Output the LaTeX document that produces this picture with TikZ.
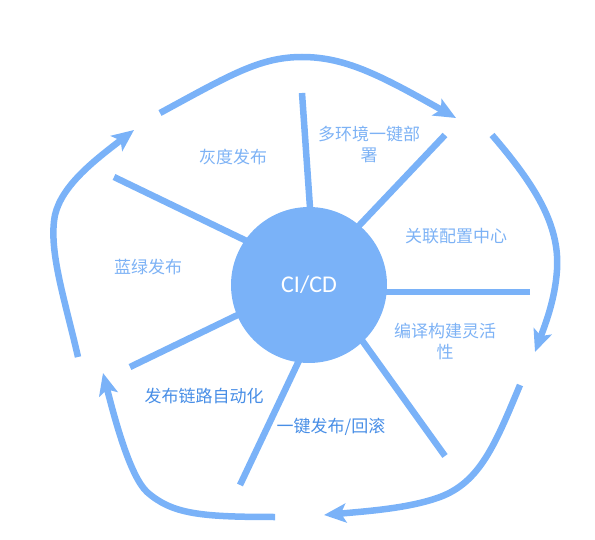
\documentclass[tikz,border=0pt]{standalone}
\usepackage{fontspec}
\newfontfamily\cjk{Noto Sans CJK SC}
\newfontfamily\latinf{Carlito}
\usetikzlibrary{arrows.meta}
\definecolor{lineblue}{RGB}{122,178,248}
\definecolor{textlight}{RGB}{125,178,245}
\definecolor{textdark}{RGB}{72,142,230}
\tikzset{
  spoke/.style={line width=6.5pt, draw=lineblue},
  cyc/.style={line width=6.5pt, draw=lineblue, -{Stealth[length=22pt,width=19pt,inset=5pt]}},
  lbl/.style={text=textlight, font=\cjk\fontsize{17}{21}\selectfont, align=center, inner sep=0pt},
  lbldark/.style={lbl, text=textdark},
  hub/.style={circle, fill=lineblue, minimum size=156pt, inner sep=0pt, text=white, font=\latinf\fontsize{24}{28}\selectfont}
}
\begin{document}
\begin{tikzpicture}[x=1pt,y=-1pt]
\useasboundingbox (0,0) rectangle (595,540);
% spoke end points
\coordinate (s1o) at (302,93);  \coordinate (s1i) at (311,222);
\coordinate (s2o) at (445,135); \coordinate (s2i) at (353,232);
\coordinate (s3o) at (530,292); \coordinate (s3i) at (372,292);
\coordinate (s4o) at (445,456); \coordinate (s4i) at (356,332);
\coordinate (s5o) at (240,485); \coordinate (s5i) at (304,350);
\coordinate (s6o) at (130,367); \coordinate (s6i) at (250,309);
\coordinate (s7o) at (114,177); \coordinate (s7i) at (255,245);
\foreach \i in {1,...,7} {\draw[spoke] (s\i o) -- (s\i i);}
% hub
\node[hub] (c) at (309,285) {CI/CD};
% cycle arrow end points
\coordinate (a1s) at (160,113); \coordinate (a1e) at (456,118);
\coordinate (a2s) at (492,135); \coordinate (a2e) at (535,352);
\coordinate (a3s) at (520,385); \coordinate (a3e) at (324,515);
\coordinate (a4s) at (275,517); \coordinate (a4e) at (103,373);
\coordinate (a5s) at (78,357);  \coordinate (a5e) at (134,130);
\draw[cyc] (a1s) .. controls (230,75) and (260,57) .. (302,57) .. controls (345,57) and (380,75) .. (a1e);
\draw[cyc] (a2s) .. controls (535,185) and (560,225) .. (557,270) .. controls (555,300) and (545,325) .. (a2e);
\draw[cyc] (a3s) .. controls (495,445) and (480,482) .. (440,497) .. controls (410,508) and (370,511) .. (a3e);
\draw[cyc] (a4s) .. controls (200,517) and (172,514) .. (147,492) .. controls (130,476) and (115,420) .. (a4e);
\draw[cyc] (a5s) .. controls (65,300) and (48,250) .. (55,215) .. controls (62,185) and (95,160) .. (a5e);
% labels
\node[lbl] (l1) at (233,157) {灰度发布};
\node[lbl, anchor=north] (l2) at (369,126) {多环境一键部\\署};
\node[lbl] (l3) at (456,236) {关联配置中心};
\node[lbl] (l4) at (148,267) {蓝绿发布};
\node[lbl, anchor=north] (l5) at (445,323) {编译构建灵活\\性};
\node[lbldark] (l6) at (204,396) {发布链路自动化};
\node[lbldark] (l7) at (331,427) {一键发布/回滚};
\end{tikzpicture}
\end{document}
